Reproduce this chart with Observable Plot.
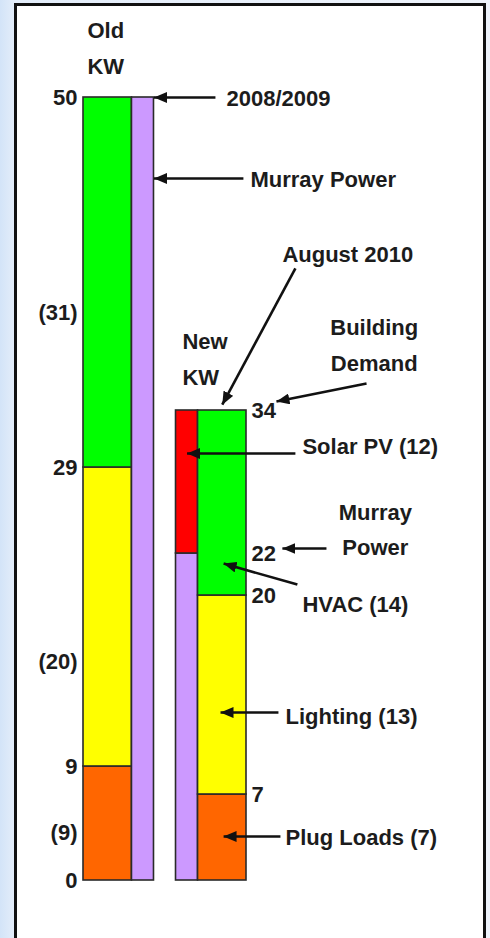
<!DOCTYPE html>
<html>
<head>
<meta charset="utf-8">
<script src="https://cdn.jsdelivr.net/npm/d3@7"></script>
<script src="https://cdn.jsdelivr.net/npm/@observablehq/plot@0.6"></script>
<style>
  html, body { margin: 0; padding: 0; }
  body {
    width: 490px; height: 938px; overflow: hidden; position: relative;
    background: linear-gradient(to right, #d3e4f8 0px, #e3edfa 14px, #eef3fb 490px);
  }
  #frame {
    position: absolute; left: 14px; top: 3px; width: 466px; height: 980px;
    border: 3px solid #111; border-bottom: none; background: #fff;
  }
  #chart { position: absolute; left: 0; top: 0; }
</style>
</head>
<body>
<div id="frame"></div>
<div id="chart"></div>
<script>
// ---- data ----
const loadCategories = ["Plug Loads", "Lighting", "HVAC"];
const oldLoads = [9, 20, 21];          // 2008/2009 KW by load
const newLoads = [7, 13, 14];          // August 2010 KW by load
const supplyCategories = ["Murray Power", "Solar PV"];
const oldSupply = [50, 0];             // 2008/2009 KW by source
const newSupply = [22, 12];            // August 2010 KW by source
const oldTicks = [0, 9, 29, 50];
const newTicks = [7, 20, 22, 34];
const oldSegmentLabels = ["(9)", "(20)", "(31)"];
const oldSegmentLabelAt = [3.9, 15.7, 39];

// ---- layout (schematic, not to scale) ----
const columnSpans = [
  ["old-load", 2.2], ["old-supply", 1], ["gap", 1], ["new-supply", 1], ["new-load", 2.2]
];
const col = {};
{ let a = 0; for (const [k, s] of columnSpans) { col[k] = [a, a + s]; a += s; } }
const mid = (k) => (col[k][0] + col[k][1]) / 2;
const xMax = col["new-load"][1];

// the reference axis is piecewise: each boundary value has its own step
const yBreaks = [0, 7, 9, 20, 22, 29, 34, 50];
const yStops  = [880, 794, 766, 595, 553, 467, 410, 97];

function stack(colKey, cats, vals) {
  let acc = 0;
  return cats.map((c, i) => { const y1 = acc; acc += vals[i]; return {colKey, category: c, y1, y2: acc}; })
             .filter(d => d.y2 > d.y1);
}
const segments = [
  ...stack("old-load", loadCategories, oldLoads),
  ...stack("old-supply", supplyCategories, oldSupply),
  ...stack("new-supply", supplyCategories, newSupply),
  ...stack("new-load", loadCategories, newLoads)
];

const callouts = [
  {text: "2008/2009",       tx: 6.49,  ty: 50,    anchor: "start",  from: [5.99, 50],     to: [col["old-supply"][1], 50]},
  {text: "Murray Power",    tx: 7.58,  ty: 45.86, anchor: "start",  from: [7.26, 45.86],  to: [col["old-supply"][1], 45.86]},
  {text: "August 2010",     tx: 12.0,  ty: 42.18, anchor: "middle", from: [9.62, 41.26],  to: [mid("new-load"), 34.3]},
  {text: "Building\nDemand",tx: 13.2,  ty: 37.53, anchor: "middle", from: [12.85, 35.38], to: [8.76, 34.46]},
  {text: "Solar PV (12)",   tx: 9.94,  ty: 30.93, anchor: "start",  from: [9.62, 30.23],  to: [mid("new-supply"), 30.23]},
  {text: "Murray\nPower",   tx: 13.25, ty: 24.24, anchor: "middle", from: [11.03, 22.41], to: [9.03, 22.41]},
  {text: "HVAC (14)",       tx: 9.94,  ty: 19.49, anchor: "start",  from: [9.71, 20.52],  to: [6.36, 21.52]},
  {text: "Lighting (13)",   tx: 9.17,  ty: 12.28, anchor: "start",  from: [8.85, 12.47],  to: [6.22, 12.47]},
  {text: "Plug Loads (7)",  tx: 9.17,  ty: 3.58,  anchor: "start",  from: [8.94, 3.58],   to: [6.36, 3.58]}
];
const headers = [
  {text: "Old\nKW", x: 0.18, y: 52.7},
  {text: "New\nKW", x: 4.49, y: 36.82}
];

function solidHead(color, context) {
  const doc = (context && context.document) || document;
  const ns = "http://www.w3.org/2000/svg";
  const m = doc.createElementNS(ns, "marker");
  m.setAttribute("viewBox", "-13 -5.5 13 11");
  m.setAttribute("markerWidth", 13);
  m.setAttribute("markerHeight", 11);
  m.setAttribute("markerUnits", "userSpaceOnUse");
  m.setAttribute("orient", "auto");
  m.setAttribute("refX", 0);
  m.setAttribute("refY", 0);
  const p = doc.createElementNS(ns, "path");
  p.setAttribute("d", "M-13,-5.5L0,0L-13,5.5Z");
  p.setAttribute("fill", color);
  p.setAttribute("stroke", "none");
  m.appendChild(p);
  return m;
}

const font = "font-family:'Liberation Sans',Arial,Helvetica,sans-serif;font-size:22px;font-weight:bold;";
const ink = "#1c1c1c";
const textStyle = {fontSize: 22, fontWeight: "bold", fill: ink};

const chart = Plot.plot({
  width: 490,
  height: 938,
  marginLeft: 83,
  marginRight: 490 - 246,
  marginTop: 0,
  marginBottom: 0,
  style: "background:transparent;overflow:visible;color:" + ink + ";" + font,
  x: {type: "linear", domain: [0, xMax], axis: null},
  y: {type: "linear", domain: yBreaks, range: yStops, axis: null},
  color: {
    domain: [...loadCategories, ...supplyCategories],
    range: ["#ff6600", "#ffff00", "#00ff00", "#cc99ff", "#ff0000"]
  },
  marks: [
    Plot.rect(segments, {
      x1: d => col[d.colKey][0], x2: d => col[d.colKey][1],
      y1: "y1", y2: "y2", fill: "category", stroke: "#2a2a2a", strokeWidth: 1.6
    }),
    Plot.axisY({ticks: oldTicks, anchor: "left", tickSize: 0, tickPadding: 6, label: null, ...textStyle}),
    Plot.axisY({ticks: newTicks, anchor: "right", tickSize: 0, tickPadding: 5, label: null, ...textStyle}),
    Plot.text(oldSegmentLabels, {x: () => 0, y: (d, i) => oldSegmentLabelAt[i], text: d => d,
      textAnchor: "end", dx: -6, ...textStyle}),
    Plot.text(headers, {x: "x", y: "y", text: "text", textAnchor: "start", lineHeight: 1.64, ...textStyle}),
    Plot.link(callouts, {
      x1: d => d.from[0], y1: d => d.from[1], x2: d => d.to[0], y2: d => d.to[1],
      stroke: "#111", strokeWidth: 2.6, markerEnd: solidHead
    }),
    Plot.text(callouts.filter(d => d.anchor === "start"),
      {x: "tx", y: "ty", text: "text", textAnchor: "start", dy: -3, lineHeight: 1.62, ...textStyle}),
    Plot.text(callouts.filter(d => d.anchor === "middle"),
      {x: "tx", y: "ty", text: "text", textAnchor: "middle", lineHeight: 1.62, ...textStyle})
  ]
});
document.getElementById("chart").appendChild(chart);
</script>
</body>
</html>
